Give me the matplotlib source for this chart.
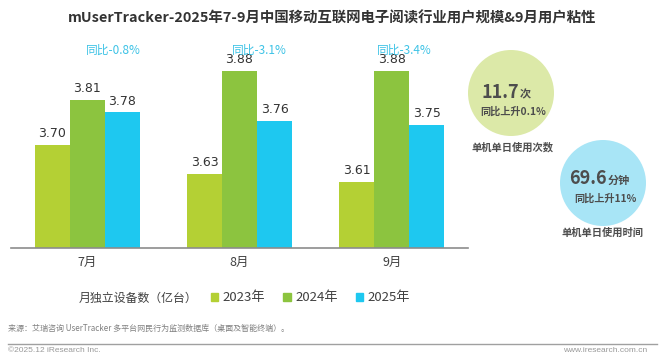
import numpy as np
import matplotlib
matplotlib.use('Agg')
import matplotlib.pyplot as plt
from matplotlib.patches import Circle, Patch

plt.rcParams['font.family'] = ['Noto Sans CJK SC', 'DejaVu Sans']

# Data
months = ['7月', '8月', '9月']
years = ['2023年', '2024年', '2025年']
users_2023 = [3.70, 3.63, 3.61]
users_2024 = [3.81, 3.88, 3.88]
users_2025 = [3.78, 3.76, 3.75]
yoy_labels = ['同比-0.8%', '同比-3.1%', '同比-3.4%']
legend_title = '月独立设备数（亿台）'
freq_value = '11.7'
freq_unit = '次'
freq_yoy = '同比上升0.1%'
freq_name = '单机单日使用次数'
time_value = '69.6'
time_unit = '分钟'
time_yoy = '同比上升11%'
time_name = '单机单日使用时间'

title = 'mUserTracker-2025年7-9月中国移动互联网电子阅读行业用户规模&9月用户粘性'
source = '来源：艾瑞咨询 UserTracker 多平台网民行为监测数据库（桌面及智能终端）。'

colors = ['#B4D034', '#8CC43F', '#1EC8F0']
text_dark = '#333333'
yoy_color = '#3EC3E6'

W, H = 660, 356
fig = plt.figure(figsize=(W / 100, H / 100), dpi=100)
fig.patch.set_facecolor('white')

# overlay axes in pixel coords for decorations
ov = fig.add_axes([0, 0, 1, 1])
ov.set_xlim(0, W)
ov.set_ylim(H, 0)
ov.axis('off')

# main bar axes
base_px, top_px, left_px, right_px = 248, 40, 11, 468
ax = fig.add_axes([left_px / W, (H - base_px) / H, (right_px - left_px) / W, (base_px - top_px) / H])
ax.patch.set_alpha(0)
ymin = 3.45
ax.set_ylim(ymin, ymin + (base_px - top_px) / 411)
ax.set_xlim(-0.5, 2.5)

x = np.arange(len(months))
bw = 0.23
series = [users_2023, users_2024, users_2025]
for k, vals in enumerate(series):
    xs = x + (k - 1) * bw
    ax.bar(xs, np.array(vals) - ymin, bottom=ymin, width=bw, color=colors[k], label=years[k])
    for xi, v in zip(xs, vals):
        ax.annotate(f'{v:.2f}', (xi, v), xytext=(0, 3.5), textcoords='offset points',
                    ha='center', va='bottom', fontsize=9, color=text_dark, family='DejaVu Sans')

# yoy labels sit a little right of each group, as in the source
yoy_dx = [0.17, 0.13, 0.08]
for i, lab in enumerate(yoy_labels):
    ax.text(x[i] + yoy_dx[i], 3.932, lab, ha='center', va='center', fontsize=8.5, color=yoy_color)

for s in ['top', 'right', 'left']:
    ax.spines[s].set_visible(False)
ax.spines['bottom'].set_color('#8C8C8C')
ax.spines['bottom'].set_linewidth(1.2)
ax.set_yticks([])
ax.set_xticks(x)
ax.set_xticklabels(months, fontsize=9, color='#404040')
ax.tick_params(axis='x', length=0, pad=6)

# legend
handles = [Patch(color=c) for c in colors]
fig.legend(handles, years, loc='center left', bbox_to_anchor=(211 / W, 1 - 298 / H),
           ncol=3, frameon=False, fontsize=9.5, handlelength=0.55, handleheight=0.55,
           handletextpad=0.35, columnspacing=1.35, borderpad=0, borderaxespad=0,
           labelcolor='#404040')
ov.text(79, 298, legend_title, ha='left', va='center', fontsize=8.6, color='#404040')

# title
ov.text(332.5, 18, title, ha='center', va='center', fontsize=10.4, fontweight='bold', color=text_dark)

# stickiness circles
circ_dark = '#4D4D4D'
ov.add_patch(Circle((511, 93), 43, color='#DCE9A8', lw=0))
ov.add_patch(Circle((603, 183), 43, color='#A8E5F6', lw=0))
ov.text(519, 98, freq_value, ha='right', va='baseline', fontsize=13, fontweight='bold', color=circ_dark)
ov.text(519.5, 98, freq_unit, ha='left', va='baseline', fontsize=8, fontweight='bold', color=circ_dark)
ov.text(513, 112, freq_yoy, ha='center', va='center', fontsize=7.3, fontweight='bold', color=circ_dark)
ov.text(513, 147, freq_name, ha='center', va='center', fontsize=7.4, fontweight='bold', color=circ_dark)
ov.text(607, 184, time_value, ha='right', va='baseline', fontsize=13, fontweight='bold', color=circ_dark)
ov.text(607.5, 184, time_unit, ha='left', va='baseline', fontsize=8, fontweight='bold', color=circ_dark)
ov.text(605.5, 199, time_yoy, ha='center', va='center', fontsize=7.3, fontweight='bold', color=circ_dark)
ov.text(602.5, 233, time_name, ha='center', va='center', fontsize=7.4, fontweight='bold', color=circ_dark)

# footer
ov.text(8, 328, source, ha='left', va='center', fontsize=5.8, color='#808080')
ov.plot([8, 657], [344, 344], color='#A0A0A0', lw=1)
ov.text(8, 350, '©2025.12 iResearch Inc.', ha='left', va='center', fontsize=6,
        color='#999999', family='Liberation Sans')
ov.text(647, 350, 'www.iresearch.com.cn', ha='right', va='center', fontsize=6,
        color='#999999', family='Liberation Sans')

fig.savefig('out.png', dpi=100, facecolor='white')
